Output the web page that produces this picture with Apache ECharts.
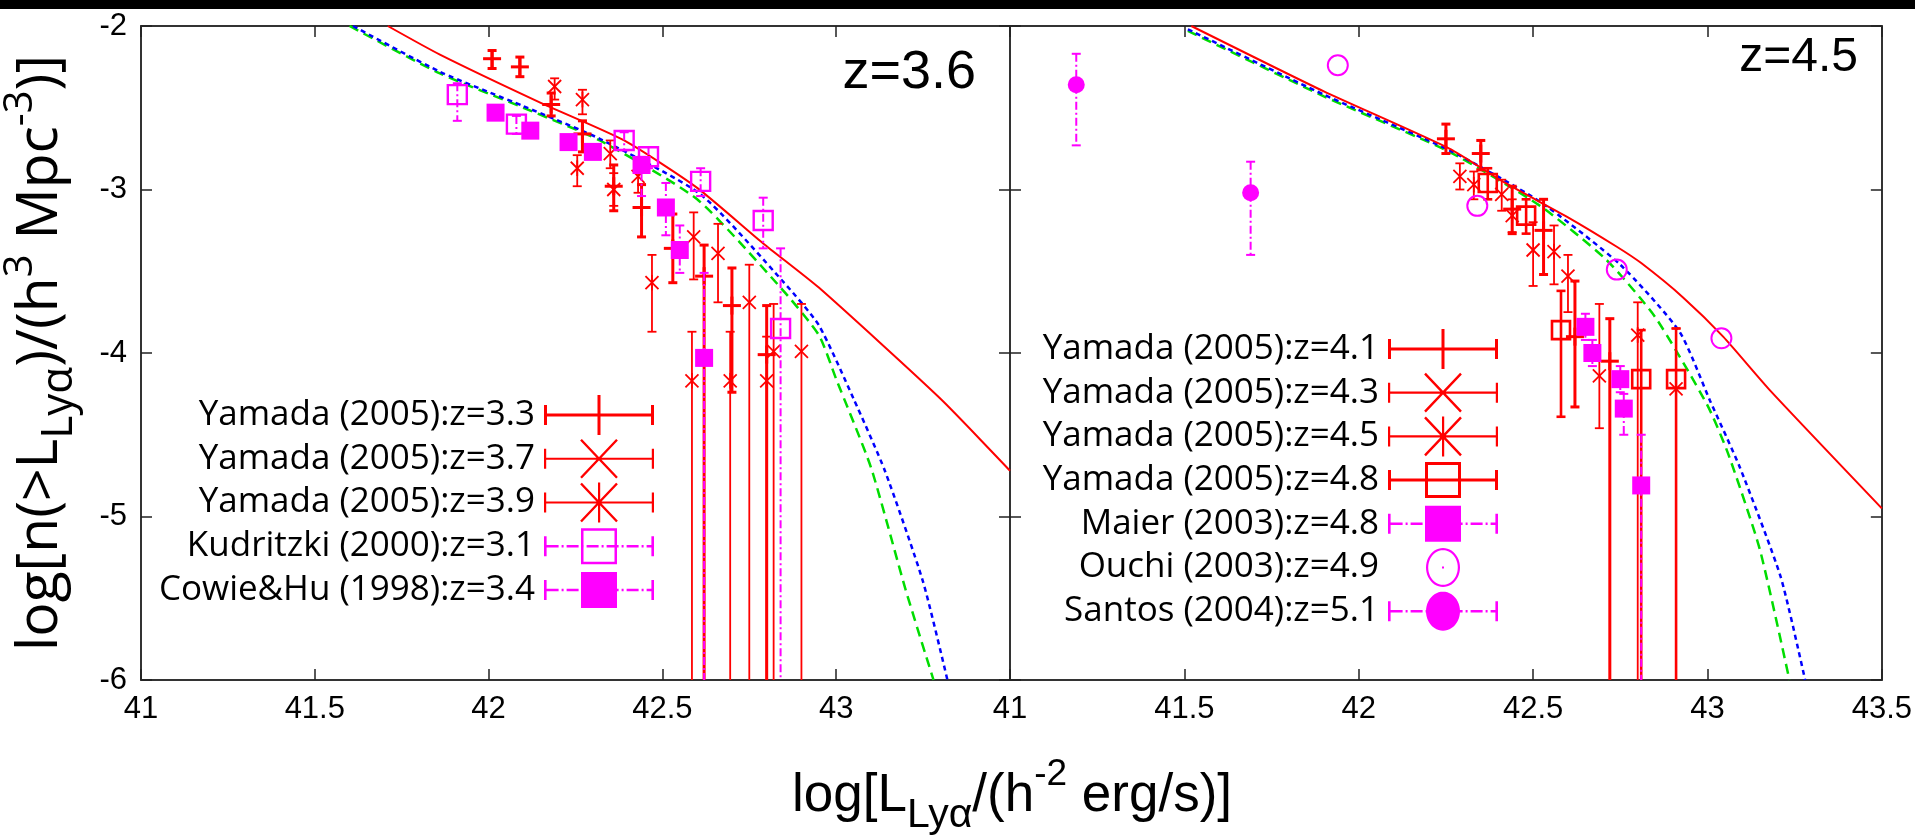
<!DOCTYPE html>
<html><head><meta charset="utf-8">
<script src="https://cdn.jsdelivr.net/npm/echarts@6.0.0/dist/echarts.min.js"></script>
<style>html,body{margin:0;padding:0;background:#fff;}#c{width:1915px;height:836px;}</style>
</head><body><div id="c"></div>
<script>
// ---------- axis ticks ----------
const xTicks = [41, 41.5, 42, 42.5, 43, 43.5];
const yTicks = [-6, -5, -4, -3, -2];

// ---------- left panel (z=3.6): [logL, logn, lower, upper] ----------
const yamada33 = [[42.01,-2.20,-2.26,-2.15],[42.09,-2.25,-2.31,-2.19],[42.18,-2.48,-2.55,-2.41],[42.27,-2.66,-2.77,-2.58],[42.36,-2.98,-3.13,-2.85],[42.44,-3.11,-3.29,-2.97],[42.53,-3.36,-3.57,-3.15],[42.62,-3.53,-6.5,-3.34],[42.70,-3.71,-4.24,-3.48],[42.80,-4.01,-6.5,-3.71]];
const yamada37 = [[42.19,-2.37,-2.45,-2.32],[42.35,-2.78,-2.87,-2.70],[42.43,-2.92,-3.02,-2.83],[42.59,-3.29,-3.55,-3.14],[42.66,-3.39,-3.69,-3.21],[42.75,-3.69,-6.5,-3.46],[42.82,-3.99,-6.5,-3.70],[42.90,-3.99,-6.5,-3.70]];
const yamada39 = [[42.27,-2.45,-2.54,-2.39],[42.255,-2.87,-2.98,-2.79],[42.36,-3.00,-3.10,-2.90],[42.47,-3.57,-3.87,-3.40],[42.585,-4.17,-6.5,-3.87],[42.695,-4.17,-6.5,-3.87],[42.80,-4.17,-6.5,-3.90]];
const kudritzki = [[41.91,-2.42,-2.58,-2.35],[42.08,-2.60,-2.66,-2.55],[42.39,-2.70,-2.76,-2.65],[42.46,-2.80,-2.87,-2.74],[42.61,-2.95,-3.04,-2.87],[42.79,-3.19,-3.36,-3.05],[42.84,-3.85,-6.5,-3.36]];
const cowieHu = [[42.02,-2.53,-2.57,-2.49],[42.12,-2.64,-2.68,-2.60],[42.23,-2.71,-2.75,-2.67],[42.30,-2.77,-2.81,-2.73],[42.44,-2.85,-3.04,-2.80],[42.51,-3.11,-3.28,-2.96],[42.55,-3.37,-3.51,-3.22],[42.62,-4.03,-6.5,-3.51]];
const leftRed   = [[41.71,-2.0],[41.86,-2.175],[42.15,-2.47],[42.39,-2.70],[42.60,-2.99],[42.79,-3.33],[42.95,-3.60],[43.3,-4.28],[43.5,-4.72]];
const leftBlue  = [[41.61,-2.0],[41.86,-2.28],[42.10,-2.49],[42.32,-2.69],[42.61,-3.03],[42.85,-3.57],[42.95,-3.83],[43.05,-4.28],[43.14,-4.72],[43.25,-5.40],[43.32,-6.0]];
const leftGreen = [[41.60,-2.0],[41.86,-2.29],[42.10,-2.50],[42.32,-2.70],[42.60,-3.06],[42.84,-3.60],[42.95,-3.89],[43.0,-4.16],[43.10,-4.70],[43.20,-5.45],[43.28,-6.0]];

// ---------- right panel (z=4.5) ----------
const yamada41 = [[42.25,-2.69,-2.78,-2.60],[42.35,-2.78,-2.88,-2.70],[42.44,-3.12,-3.27,-2.98],[42.53,-3.25,-3.52,-3.06],[42.62,-3.90,-4.33,-3.56],[42.72,-4.05,-6.5,-3.79]];
const yamada43 = [[42.29,-2.92,-3.00,-2.84],[42.41,-3.03,-3.13,-2.94],[42.50,-3.37,-3.59,-3.20],[42.60,-3.53,-3.75,-3.40],[42.69,-4.14,-4.46,-3.70]];
const yamada45 = [[42.33,-2.97,-3.06,-2.89],[42.44,-3.16,-3.26,-3.06],[42.56,-3.38,-3.58,-3.22],[42.80,-3.89,-6.5,-3.69],[42.91,-4.22,-6.5,-3.85]];
const yamada48 = [[42.37,-2.96,-3.06,-2.87],[42.48,-3.16,-3.27,-3.06],[42.58,-3.86,-4.39,-3.62],[42.81,-4.16,-6.5,-3.86],[42.91,-4.16,-6.5,-3.85]];
const maier = [[42.65,-3.84,-3.92,-3.76],[42.67,-4.00,-4.08,-3.92],[42.75,-4.16,-4.24,-4.08],[42.76,-4.34,-4.50,-4.25],[42.81,-4.81,-6.5,-4.50]];
const ouchi = [[41.94,-2.24,-2.24,-2.24],[42.34,-3.10,-3.10,-3.10],[42.74,-3.49,-3.49,-3.49],[43.04,-3.91,-3.91,-3.91]];
const santos = [[41.19,-2.36,-2.73,-2.17],[41.69,-3.02,-3.40,-2.83]];
const rightRed   = [[41.52,-2.0],[41.90,-2.40],[42.26,-2.75],[42.42,-2.96],[42.60,-3.17],[42.74,-3.35],[42.81,-3.45],[42.93,-3.66],[43.045,-3.90],[43.18,-4.23],[43.5,-4.95]];
const rightBlue  = [[41.51,-2.02],[41.90,-2.42],[42.26,-2.76],[42.52,-3.075],[42.75,-3.46],[42.92,-3.87],[43.007,-4.29],[43.093,-4.70],[43.21,-5.37],[43.28,-6.0]];
const rightGreen = [[41.51,-2.03],[41.90,-2.43],[42.26,-2.77],[42.52,-3.10],[42.71,-3.43],[42.85,-3.78],[43.0,-4.32],[43.06,-4.62],[43.15,-5.20],[43.235,-6.0]];

const RED = '#ff0000', MAG = '#ff00ff', BLUE = '#0000ff', GREEN = '#00dd00';
const TICKF = "'Liberation Sans',Arial,sans-serif";
const XTF = "'Liberation Sans',Arial,sans-serif";
const YTF = "'Open Sans','Noto Sans',sans-serif";
const LEGF = "'Open Sans','Noto Sans',sans-serif";

// ---------- legend icon geometry (110 x 40 box) ----------
const IW = 110, IH = 40, CY = 20;
const ANCH = 'M0 0L0.01 0M110 40L109.99 40';
function poly(pts, rev) {
  let a = 0;
  for (let i = 0; i < pts.length; i++) { const p = pts[i], q = pts[(i + 1) % pts.length]; a += p[0] * q[1] - q[0] * p[1]; }
  if ((a < 0) !== !!rev) pts = pts.slice().reverse();
  return 'M' + pts.map(p => p[0].toFixed(2) + ' ' + p[1].toFixed(2)).join('L') + 'Z';
}
function R(x, y, w, h, rev) { return poly([[x, y], [x + w, y], [x + w, y + h], [x, y + h]], rev); }
function S(x1, y1, x2, y2, t) {
  const dx = x2 - x1, dy = y2 - y1, L = Math.hypot(dx, dy), nx = -dy / L * t / 2, ny = dx / L * t / 2;
  return poly([[x1 + nx, y1 + ny], [x2 + nx, y2 + ny], [x2 - nx, y2 - ny], [x1 - nx, y1 - ny]]);
}
function E(cx, cy, rx, ry, rev) {
  const pts = [];
  for (let i = 0; i < 48; i++) { const a = i / 48 * Math.PI * 2; pts.push([cx + rx * Math.cos(a), cy + ry * Math.sin(a)]); }
  return poly(pts, rev);
}
function errSolid(t) { return R(0, CY - t / 2, IW, t) + R(0, 10, t, 20) + R(IW - t, 10, t, 20); }
function errDashDot(t) {
  let p = R(0, 10, t, 20) + R(IW - t, 10, t, 20);
  const pat = [[12, 1], [3, 0], [2, 1], [3, 0]];
  let x = t, i = 0;
  while (x < IW - t) { const seg = pat[i % 4]; const e = Math.min(x + seg[0], IW - t); if (seg[1]) p += R(x, CY - t / 2, e - x, t); x = e; i++; }
  return p;
}
const crossP = (t) => S(37, 1, 73, 39, t) + S(73, 1, 37, 39, t);
const ICON = {
  plus: 'path://' + ANCH + errSolid(3) + R(53.5, 0, 3, 40),
  cross: 'path://' + ANCH + errSolid(2.2) + crossP(2.4),
  star: 'path://' + ANCH + errSolid(2.2) + crossP(2.4) + R(54, 0, 2.2, 40),
  osqRed: 'path://' + ANCH + errSolid(3) + R(37, 2, 36, 36) + R(40, 5, 30, 30, true),
  osqMag: 'path://' + ANCH + errDashDot(2.6) + R(37, 2, 36, 36) + R(39.5, 4.5, 31, 31, true),
  fsq: 'path://' + ANCH + errDashDot(2.6) + R(37, 2, 36, 36),
  ocirc: 'path://' + ANCH + E(55, 20, 17, 19.5) + E(55, 20, 14.8, 17.3, true) + R(54, 19, 2, 2),
  fcirc: 'path://' + ANCH + errDashDot(2.6) + E(55, 20, 17, 19.5)
};

// ---------- error-bar series ----------
function ln(x1, y1, x2, y2, st) { return { type: 'line', shape: { x1, y1, x2, y2 }, style: st }; }
function errSeries(name, data, panel, o) {
  return {
    type: 'custom', name, data, xAxisIndex: panel * 2, yAxisIndex: panel * 2,
    clip: true, z: 5, encode: { x: 0, y: 1 }, itemStyle: { color: o.color },
    renderItem(params, api) {
      const x = api.value(0), y = api.value(1), lo = api.value(2), hi = api.value(3);
      const p = api.coord([x, y]);
      const ch = [];
      if (lo !== hi) {
        const a = api.coord([x, hi]), b = api.coord([x, lo]);
        ch.push(ln(a[0], a[1], b[0], b[1], { stroke: o.color, lineWidth: o.lw, lineDash: o.dash || null, fill: 'none' }));
        [a, b].forEach(q => ch.push(ln(q[0] - o.cap, q[1], q[0] + o.cap, q[1], { stroke: o.color, lineWidth: o.lw })));
      }
      const s = o.size, c = p[0], d = p[1];
      const ss = { stroke: o.color, lineWidth: o.slw, fill: 'none' };
      if (o.sym === 'plus') { ch.push(ln(c - s, d, c + s, d, ss), ln(c, d - s, c, d + s, ss)); }
      if (o.sym === 'cross' || o.sym === 'star') { ch.push(ln(c - s, d - s, c + s, d + s, ss), ln(c - s, d + s, c + s, d - s, ss)); }
      if (o.sym === 'star') { ch.push(ln(c, d - s * 1.2, c, d + s * 1.2, ss)); }
      if (o.sym === 'osquare') { ch.push({ type: 'rect', shape: { x: c - s, y: d - s, width: 2 * s, height: 2 * s }, style: ss }); }
      if (o.sym === 'fsquare') { ch.push({ type: 'rect', shape: { x: c - s, y: d - s, width: 2 * s, height: 2 * s }, style: { fill: o.color } }); }
      if (o.sym === 'ocircle') { ch.push({ type: 'circle', shape: { cx: c, cy: d, r: s }, style: ss }); }
      if (o.sym === 'fcircle') { ch.push({ type: 'circle', shape: { cx: c, cy: d, r: s }, style: { fill: o.color } }); }
      return { type: 'group', children: ch };
    }
  };
}
function curve(data, panel, color, width, dash, z) {
  return { type: 'line', data, xAxisIndex: panel * 2, yAxisIndex: panel * 2, showSymbol: false, symbol: 'none',
    smooth: 0.2, silent: true, z, lineStyle: { color, width, type: dash || 'solid' } };
}
const DD = [8, 3, 2, 3];

// ---------- axes ----------
const axLine = { show: true, lineStyle: { color: '#333', width: 2 } };
const tick = { show: true, inside: true, length: 11, lineStyle: { color: '#222', width: 1.5 } };
function xAx(grid, pos, labels, hideLast) {
  return { type: 'value', gridIndex: grid, position: pos, min: xTicks[0], max: xTicks[xTicks.length - 1], interval: 0.5,
    axisLine: axLine, axisTick: tick, splitLine: { show: false },
    axisLabel: { show: labels, margin: 14, fontSize: 31, color: '#000', fontFamily: TICKF,
      formatter: v => (hideLast && v === 43.5) ? '' : String(v) } };
}
function yAx(grid, pos, labels, extra) {
  return Object.assign({ type: 'value', gridIndex: grid, position: pos, min: yTicks[0], max: yTicks[yTicks.length - 1], interval: 1,
    axisLine: axLine, axisTick: tick, splitLine: { show: false },
    axisLabel: { show: labels, margin: 14, fontSize: 31, color: '#000', fontFamily: TICKF } }, extra || {});
}
function rich(sz, fam) {
  const b = { fontFamily: fam, color: '#000', fontWeight: 'normal' };
  return {
    a: Object.assign({ fontSize: sz, lineHeight: 80, verticalAlign: 'middle' }, b),
    sub: Object.assign({ fontSize: Math.round(sz * 0.77), lineHeight: 53, verticalAlign: 'bottom' }, b),
    sup: Object.assign({ fontSize: Math.round(sz * 0.7), lineHeight: 16, verticalAlign: 'top' }, b)
  };
}

const legendCommon = { orient: 'vertical', align: 'right', itemWidth: IW, itemHeight: IH, itemGap: 3.75, padding: 0,
  selectedMode: false, itemStyle: { borderWidth: 0 },
  textStyle: { fontSize: 35, lineHeight: 38, fontFamily: LEGF, color: '#000', padding: [0, 4, 0, 0] } };

const option = {
  animation: false,
  backgroundColor: '#fff',
  grid: [{ left: 140, top: 26, width: 870, height: 654 }, { left: 1010, top: 26, width: 872, height: 654 }],
  xAxis: [xAx(0, 'bottom', true, true), xAx(0, 'top', false), xAx(1, 'bottom', true, false), xAx(1, 'top', false)],
  yAxis: [
    yAx(0, 'left', true, { name: '{a|log[n(>L}{sub|Lyα}{a|)/(h}{sup|3}{a| Mpc}{sup|-3}{a|)]}', nameLocation: 'middle', nameRotate: 90, nameGap: 60,
      nameTextStyle: { rich: rich(57, YTF), fontFamily: YTF, fontWeight: 'normal' } }),
    yAx(0, 'right', false), yAx(1, 'left', false), yAx(1, 'right', false)
  ],
  title: [
    { text: 'z=3.6', right: 1915 - 976, top: 46, padding: 0, textStyle: { fontSize: 54, fontWeight: 'normal', fontFamily: TICKF, color: '#000' } },
    { text: 'z=4.5', right: 1915 - 1858, top: 34, padding: 0, textStyle: { fontSize: 48, fontWeight: 'normal', fontFamily: TICKF, color: '#000' } },
    { text: '{a|log[L}{sub|Lyα}{a|/(h}{sup|-2}{a| erg/s)]}', left: 1012, textAlign: 'center', top: 756, padding: 0,
      textStyle: { rich: rich(53, XTF), fontFamily: XTF, fontWeight: 'normal' } }
  ],
  legend: [
    Object.assign({}, legendCommon, { right: 1915 - 654, top: 395, data: [
      { name: 'Yamada (2005):z=3.3', icon: ICON.plus, itemStyle: { color: RED } },
      { name: 'Yamada (2005):z=3.7', icon: ICON.cross, itemStyle: { color: RED } },
      { name: 'Yamada (2005):z=3.9', icon: ICON.star, itemStyle: { color: RED } },
      { name: 'Kudritzki (2000):z=3.1', icon: ICON.osqMag, itemStyle: { color: MAG } },
      { name: 'Cowie&Hu (1998):z=3.4', icon: ICON.fsq, itemStyle: { color: MAG } }] }),
    Object.assign({}, legendCommon, { right: 1915 - 1498, top: 329, itemGap: 3.7, data: [
      { name: 'Yamada (2005):z=4.1', icon: ICON.plus, itemStyle: { color: RED } },
      { name: 'Yamada (2005):z=4.3', icon: ICON.cross, itemStyle: { color: RED } },
      { name: 'Yamada (2005):z=4.5', icon: ICON.star, itemStyle: { color: RED } },
      { name: 'Yamada (2005):z=4.8', icon: ICON.osqRed, itemStyle: { color: RED } },
      { name: 'Maier (2003):z=4.8', icon: ICON.fsq, itemStyle: { color: MAG } },
      { name: 'Ouchi (2003):z=4.9', icon: ICON.ocirc, itemStyle: { color: MAG } },
      { name: 'Santos (2004):z=5.1', icon: ICON.fcirc, itemStyle: { color: MAG } }] })
  ],
  graphic: [{ type: 'rect', shape: { x: 0, y: 0, width: 1915, height: 9 }, style: { fill: '#000' }, z: 100 }],
  series: [
    curve(leftGreen, 0, GREEN, 2.5, [10, 6], 2), curve(leftBlue, 0, BLUE, 2.5, [5, 4], 3), curve(leftRed, 0, RED, 2, null, 4),
    curve(rightGreen, 1, GREEN, 2.5, [10, 6], 2), curve(rightBlue, 1, BLUE, 2.5, [5, 4], 3), curve(rightRed, 1, RED, 2, null, 4),
    errSeries('Yamada (2005):z=3.3', yamada33, 0, { color: RED, lw: 3, slw: 3, cap: 4.5, sym: 'plus', size: 9 }),
    errSeries('Yamada (2005):z=3.7', yamada37, 0, { color: RED, lw: 1.8, slw: 1.8, cap: 4.5, sym: 'cross', size: 6.5 }),
    errSeries('Yamada (2005):z=3.9', yamada39, 0, { color: RED, lw: 1.8, slw: 1.8, cap: 4.5, sym: 'star', size: 6.5 }),
    errSeries('Kudritzki (2000):z=3.1', kudritzki, 0, { color: MAG, lw: 2, slw: 2.4, cap: 4.5, sym: 'osquare', size: 9.5, dash: DD }),
    errSeries('Cowie&Hu (1998):z=3.4', cowieHu, 0, { color: MAG, lw: 2, slw: 2, cap: 4.5, sym: 'fsquare', size: 9, dash: DD }),
    errSeries('Yamada (2005):z=4.1', yamada41, 1, { color: RED, lw: 3, slw: 3, cap: 4.5, sym: 'plus', size: 9 }),
    errSeries('Yamada (2005):z=4.3', yamada43, 1, { color: RED, lw: 1.8, slw: 1.8, cap: 4.5, sym: 'cross', size: 6.5 }),
    errSeries('Yamada (2005):z=4.5', yamada45, 1, { color: RED, lw: 1.8, slw: 1.8, cap: 4.5, sym: 'star', size: 6.5 }),
    errSeries('Yamada (2005):z=4.8', yamada48, 1, { color: RED, lw: 2.6, slw: 2.6, cap: 4.5, sym: 'osquare', size: 9 }),
    errSeries('Maier (2003):z=4.8', maier, 1, { color: MAG, lw: 2, slw: 2, cap: 4.5, sym: 'fsquare', size: 9, dash: DD }),
    errSeries('Ouchi (2003):z=4.9', ouchi, 1, { color: MAG, lw: 2, slw: 2, cap: 4.5, sym: 'ocircle', size: 10 }),
    errSeries('Santos (2004):z=5.1', santos, 1, { color: MAG, lw: 2, slw: 2, cap: 4.5, sym: 'fcircle', size: 8.5, dash: DD })
  ]
};
const chart = echarts.init(document.getElementById('c'), null, { renderer: 'canvas' });
chart.setOption(option);
</script></body></html>
